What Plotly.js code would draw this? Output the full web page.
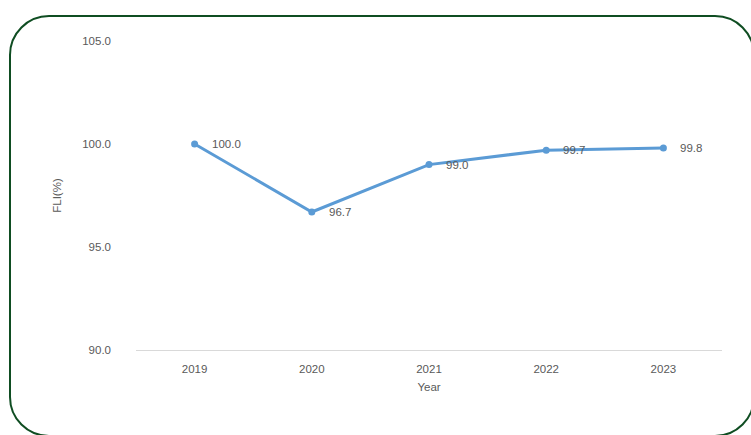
<!DOCTYPE html>
<html>
<head>
<meta charset="utf-8">
<script src="https://cdn.plot.ly/plotly-3.0.1.min.js"></script>
<style>
html,body{margin:0;padding:0;width:751px;height:435px;overflow:hidden;background:#fff;}
#chart{position:absolute;left:0;top:0;width:751px;height:435px;}
#frame{position:absolute;left:9px;top:15px;width:742px;height:418px;border:2.6px solid #0f4d22;border-radius:40px;pointer-events:none;}
</style>
</head>
<body>
<div id="chart"></div>
<div id="frame"></div>
<script>
const years = ['2019', '2020', '2021', '2022', '2023'];
const fli = [100.0, 96.7, 99.0, 99.7, 99.8];
const labels = ['100.0', '96.7', '99.0', '99.7', '99.8'];
const yTicks = [90, 95, 100, 105];
const yTickText = ['90.0', '95.0', '100.0', '105.0'];

const fontFam = '"Liberation Sans", Arial, sans-serif';
const grey = '#595959';

const trace = {
  x: years, y: fli, type: 'scatter', mode: 'lines+markers',
  line: {color: '#5b9bd5', width: 3},
  marker: {color: '#5b9bd5', size: 7},
  hoverinfo: 'skip'
};

const annotations = years.map((yr, i) => ({
  x: i, y: fli[i], xref: 'x', yref: 'y', text: labels[i],
  showarrow: false, xanchor: 'left', yanchor: 'middle', xshift: 15,
  font: {family: fontFam, size: 11.5, color: grey}
}));

const layout = {
  width: 751, height: 435,
  margin: {l: 136, r: 29, t: 41, b: 85},
  paper_bgcolor: '#fff', plot_bgcolor: '#fff',
  showlegend: false,
  font: {family: fontFam, size: 11.5, color: grey},
  xaxis: {
    type: 'category', range: [-0.5, 4.5],
    showgrid: false, zeroline: false,
    showline: true, linecolor: '#d9d9d9', linewidth: 1,
    ticks: '', ticklabelstandoff: 8,
    tickfont: {family: fontFam, size: 11.5, color: grey},
    title: {text: 'Year', font: {family: fontFam, size: 11.5, color: grey}, standoff: 9}
  },
  yaxis: {
    range: [90, 105], tickvals: yTicks, ticktext: yTickText,
    showgrid: false, zeroline: false, showline: false,
    ticks: '', ticklabelstandoff: 24,
    tickfont: {family: fontFam, size: 11.5, color: grey},
    title: {text: 'FLI(%)', font: {family: fontFam, size: 11.5, color: grey}, standoff: 18}
  },
  annotations: annotations
};

Plotly.newPlot('chart', [trace], layout, {displayModeBar: false});
</script>
</body>
</html>
